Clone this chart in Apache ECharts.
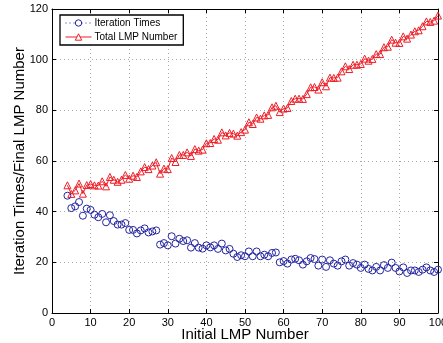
<!DOCTYPE html>
<html><head><meta charset="utf-8">
<script src="https://cdn.jsdelivr.net/npm/echarts@6/dist/echarts.min.js"></script>
<style>html,body{margin:0;padding:0;background:#fff}#c{width:443px;height:343px}</style>
</head><body><div id="c"></div>
<script>
const xValues = [];
for (let i = 4; i <= 100; i++) xValues.push(i);
const iterationTimes = [46.3,41.4,42.1,43.8,38.4,41.2,40.7,38.8,37.8,39.1,35.8,38.6,36.3,34.9,34.9,35.5,32.8,32.8,31.4,32.6,33.4,31.8,32.2,32.6,27.0,27.6,26.7,30.3,27.4,29.3,28.4,28.7,25.8,27.6,25.8,25.4,26.7,25.9,26.7,25.3,27.4,24.7,25.3,23.4,22.1,22.8,22.4,24.3,22.4,24.3,22.4,23.0,22.4,23.7,23.9,20.0,20.5,19.5,21.1,21.4,20.8,19.1,20.4,21.7,21.3,18.7,21.1,18.2,20.8,19.5,18.7,20.4,21.1,18.7,19.7,19.1,17.8,19.1,17.4,16.8,18.2,16.8,18.9,17.8,19.9,17.8,16.4,18.0,15.8,16.8,16.8,16.2,17.1,18.0,16.8,16.2,17.1];
const totalLMP = [50.4,47.0,48.4,51.1,47.1,50.5,50.9,50.4,50.3,52.0,50.0,53.7,52.6,51.8,52.6,54.5,53.0,54.2,53.7,55.9,57.6,56.8,58.2,59.5,55.0,57.0,56.8,61.2,59.6,62.4,62.4,63.4,62.0,64.7,64.1,64.5,67.0,67.1,68.7,68.4,71.3,70.1,71.1,70.8,70.0,71.4,72.4,75.3,74.6,77.2,76.7,78.0,78.2,81.2,81.8,79.3,80.7,80.9,83.7,84.6,84.6,84.5,86.4,89.1,89.2,88.2,91.1,89.5,92.9,92.8,92.9,95.4,97.4,96.3,98.0,98.0,98.3,100.4,99.6,100.3,102.2,102.2,104.9,105.1,107.9,106.7,106.6,109.2,108.3,109.9,111.2,111.6,113.2,115.1,114.9,115.4,117.4];
const seriesNames = ['Iteration Times', 'Total LMP Number'];
const xLabel = 'Initial LMP Number';
const yLabel = 'Iteration Times/Final LMP Number';

const BLUE = '#2424a0', RED = '#ee1c25';
const FONT = 'Liberation Sans, Arial, sans-serif';
const chart = echarts.init(document.getElementById('c'), null, {renderer:'canvas'});
const gridLine = {show:true, lineStyle:{color:'#a8a8a8', type:[1,3], width:1}};
const axisBase = {
  axisLine:{show:true, onZero:false, lineStyle:{color:'#000', width:1}},
  axisTick:{show:true, inside:true, length:4, lineStyle:{color:'#000'}},
};
chart.setOption({
  animation:false,
  grid:{left:52, right:5, top:9, bottom:30, containLabel:false, outerBoundsMode:'none'},
  legend:{
    orient:'vertical', left:60, top:15, itemWidth:26, itemHeight:8, itemGap:4,
    padding:[3,6,3,5], borderColor:'#000', borderWidth:1.3, backgroundColor:'#fff',
    textStyle:{fontFamily:FONT, fontSize:10, color:'#000', padding:[0,0,0,-2]},
    data:[
      {name:seriesNames[0], itemStyle:{color:'#fff', borderColor:BLUE, borderWidth:1}, lineStyle:{opacity:1, color:BLUE, type:[1,3], width:1}},
      {name:seriesNames[1], itemStyle:{color:'#fff', borderColor:RED, borderWidth:1}, lineStyle:{opacity:1, color:RED, width:1}}
    ]
  },
  xAxis:[
    Object.assign({type:'value', min:0, max:100, interval:10, position:'bottom',
      name:xLabel, nameLocation:'middle', nameGap:14, nameMoveOverlap:false,
      nameTextStyle:{fontFamily:FONT, fontSize:15, color:'#000'},
      axisLabel:{fontFamily:FONT, fontSize:11, color:'#000', margin:4},
      splitLine:gridLine}, axisBase),
    Object.assign({type:'value', min:0, max:100, interval:10, position:'top',
      axisLabel:{show:false}, splitLine:{show:false}}, axisBase)
  ],
  yAxis:[
    Object.assign({type:'value', min:0, max:120, interval:20, position:'left',
      name:yLabel, nameLocation:'middle', nameGap:25, nameMoveOverlap:false,
      nameTextStyle:{fontFamily:FONT, fontSize:15, color:'#000'},
      axisLabel:{fontFamily:FONT, fontSize:11, color:'#000', margin:4},
      splitLine:gridLine}, axisBase),
    Object.assign({type:'value', min:0, max:120, interval:20, position:'right',
      axisLabel:{show:false}, splitLine:{show:false}}, axisBase)
  ],
  series:[
    {name:seriesNames[0], type:'line', symbol:'circle', symbolSize:7,
     data:xValues.map((x,i)=>[x, iterationTimes[i]]),
     lineStyle:{color:BLUE, width:1, opacity:0},
     itemStyle:{color:'rgba(255,255,255,0)', borderColor:BLUE, borderWidth:1}},
    {name:seriesNames[1], type:'line', symbol:'triangle', symbolSize:7,
     data:xValues.map((x,i)=>[x, totalLMP[i]]),
     lineStyle:{color:RED, width:1},
     itemStyle:{color:'rgba(255,255,255,0)', borderColor:RED, borderWidth:1}}
  ]
});
</script></body></html>
